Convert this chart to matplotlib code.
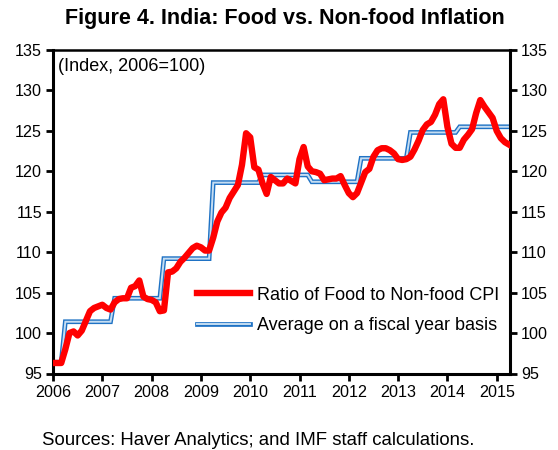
import numpy as np
import matplotlib
matplotlib.use("Agg")
import matplotlib.pyplot as plt
import matplotlib.patheffects as pe

plt.rcParams['font.family'] = ['Liberation Sans', 'DejaVu Sans']

# monthly ratio of food to non-food CPI, Jan 2006 - Apr 2015
ratio = [
    96.3, 96.3, 96.3, 98.0, 100.0, 100.2, 99.7, 100.3, 101.5, 102.7, 103.1, 103.3,   # 2006
    103.5, 103.1, 102.9, 103.8, 104.2, 104.3, 104.3, 105.6, 105.8, 106.5, 104.5, 104.2,  # 2007
    104.1, 103.8, 102.7, 102.8, 107.5, 107.6, 108.0, 108.8, 109.3, 109.9, 110.5, 110.8,  # 2008
    110.6, 110.2, 110.2, 111.8, 113.8, 114.9, 115.5, 116.7, 117.5, 118.3, 120.8, 124.7,  # 2009
    124.2, 120.5, 120.2, 118.5, 117.2, 119.3, 118.9, 118.5, 118.5, 119.1, 118.8, 118.5,  # 2010
    121.5, 123.0, 120.6, 120.0, 119.9, 119.7, 118.9, 119.0, 119.1, 119.1, 119.4, 118.3,  # 2011
    117.3, 116.8, 117.3, 118.6, 119.9, 120.3, 121.8, 122.6, 122.85, 122.85, 122.6, 122.2,  # 2012
    121.5, 121.4, 121.5, 121.8, 122.7, 123.8, 125.1, 125.8, 126.1, 127.0, 128.3, 128.9,  # 2013
    125.5, 123.4, 122.9, 122.9, 123.9, 124.5, 125.2, 127.2, 128.8, 128.0, 127.3, 126.6,  # 2014
    125.0, 124.1, 123.6, 123.3,  # 2015
]

# fiscal year (Apr-Mar) averages and how many months of the series each covers
fy_avg = [96.4, 101.4, 104.3, 109.2, 118.6, 119.55, 118.7, 121.6, 124.8, 125.5]
fy_months = [3, 12, 12, 12, 12, 12, 12, 12, 12, 13]

yticks = [95, 100, 105, 110, 115, 120, 125, 130, 135]
years = list(range(2006, 2016))

t = 2006 + np.arange(len(ratio)) / 12.0
avg = np.repeat(fy_avg, fy_months)

fig = plt.figure(figsize=(5.58, 4.5), dpi=100)
ax = fig.add_axes([0.095, 0.17, 0.819, 0.719])

ax.plot(t, avg, color='#C5DDF2', lw=1.4, solid_joinstyle='miter',
        path_effects=[pe.Stroke(linewidth=3.4, foreground='#1F72C4'), pe.Normal()],
        label='Average on a fiscal year basis', zorder=2)
ax.plot(t, ratio, color='#FF0000', lw=4.6, solid_joinstyle='round',
        label='Ratio of Food to Non-food CPI', zorder=3)

ax.set_xlim(2006, t[-1] + 0.02)
ax.set_ylim(95, 135)
ax.set_yticks(yticks)
ax.set_xticks(years)
ax.tick_params(axis='both', direction='out', length=5, width=2, labelsize=11.6, pad=3)
ax.tick_params(axis='y', right=True, labelright=True)
for s in ax.spines.values():
    s.set_linewidth(2.2)
ax.spines['top'].set_linewidth(1.8)

ax.text(0.012, 0.975, '(Index, 2006=100)', transform=ax.transAxes,
        ha='left', va='top', fontsize=13)

h, l = ax.get_legend_handles_labels()
ax.legend(h[::-1], l[::-1], loc='lower right', bbox_to_anchor=(1.0, 0.088),
          frameon=False, fontsize=13, handlelength=2.9, handletextpad=0.4,
          labelspacing=0.75, borderaxespad=0.2)

fig.text(0.511, 0.958, 'Figure 4. India: Food vs. Non-food Inflation',
         ha='center', va='center', fontsize=15.5, fontweight='bold')
fig.text(0.075, 0.022, 'Sources: Haver Analytics; and IMF staff calculations.',
         ha='left', va='center', fontsize=13.4)

fig.savefig('out.png', dpi=100)
